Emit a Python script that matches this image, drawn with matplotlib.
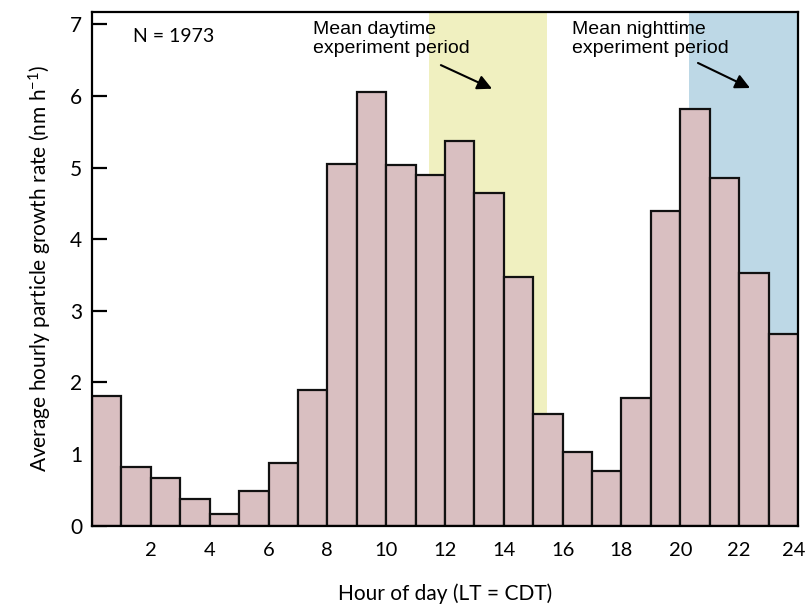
import matplotlib
matplotlib.use("Agg")
import matplotlib.pyplot as plt
import matplotlib.transforms as mtransforms
import numpy as np

plt.rcParams['font.family'] = ['Lato', 'DejaVu Sans']
plt.rcParams['mathtext.fontset'] = 'custom'
plt.rcParams['mathtext.rm'] = 'Lato'
plt.rcParams['mathtext.it'] = 'Lato:italic'

hour_start = list(range(24))
growth_rate = [1.81, 0.82, 0.66, 0.37, 0.16, 0.48, 0.87, 1.90,
               5.05, 6.06, 5.04, 4.90, 5.37, 4.64, 3.47, 1.56,
               1.03, 0.77, 1.78, 4.39, 5.82, 4.85, 3.53, 2.68]
day_period = (11.45, 15.47)
night_period = (20.3, 24.0)
xticks = [2, 4, 6, 8, 10, 12, 14, 16, 18, 20, 22, 24]
yticks = [0, 1, 2, 3, 4, 5, 6, 7]

fig = plt.figure(figsize=(8.08, 6.05), dpi=100)
ax = fig.add_axes([0.1139, 0.131, 0.8737, 0.849])

ax.axvspan(*day_period, color='#f0f0c0', zorder=0, lw=0)
ax.axvspan(*night_period, color='#bdd8e6', zorder=0, lw=0)

ax.bar(hour_start, growth_rate, width=1.0, align='edge', color='#d9bfc1',
       edgecolor='#111111', linewidth=1.6, zorder=2)

ax.set_xlim(0, 24)
ax.set_ylim(0, 7.17)
ax.set_xticks(xticks)
ax.set_yticks(yticks)
ax.tick_params(axis='x', length=0, pad=12, labelsize=14.5)
ax.tick_params(axis='y', direction='in', length=11, width=1.6, pad=7, labelsize=15)
for s in ax.spines.values():
    s.set_linewidth(1.6)
    s.set_zorder(3)

# nudge the last x tick label slightly inward so it stays inside the canvas
last_lbl = ax.get_xticklabels()[-1]
last_lbl.set_transform(last_lbl.get_transform() +
                       mtransforms.ScaledTranslation(-4 / 100, 0, fig.dpi_scale_trans))

ax.set_xlabel('Hour of day (LT = CDT)', fontsize=15, labelpad=17)
ax.set_ylabel(r'Average hourly particle growth rate (nm h$^{-1}$)', fontsize=15, labelpad=12)

ax.text(1.4, 6.83, 'N = 1973', fontsize=14, va='center', ha='left')

ax.text(7.5, 7.05, 'Mean daytime\nexperiment period', fontsize=14,
        family='Liberation Sans', va='top', ha='left', linespacing=1.2)
ax.text(16.32, 7.05, 'Mean nighttime\nexperiment period', fontsize=14,
        family='Liberation Sans', va='top', ha='left', linespacing=1.2)

arrow = dict(arrowstyle='-|>', lw=1.5, color='black', mutation_scale=22, shrinkA=0, shrinkB=0)
ax.annotate('', xy=(13.6, 6.1), xytext=(11.86, 6.43), arrowprops=arrow)
ax.annotate('', xy=(22.37, 6.11), xytext=(20.6, 6.46), arrowprops=arrow)

fig.savefig('out.png', dpi=100)
